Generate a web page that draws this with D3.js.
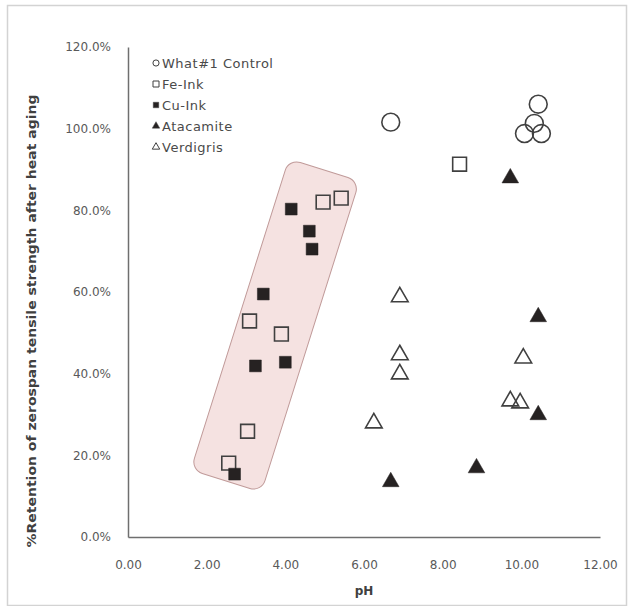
<!DOCTYPE html>
<html><head><meta charset="utf-8">
<script src="https://cdn.jsdelivr.net/npm/d3@7"></script>
<style>html,body{margin:0;padding:0;background:#fff;}</style>
</head><body>
<svg id="chart" width="635" height="606"></svg>
<script>
// ---- data (pH, fraction of zero-span tensile strength retained) ----
const seriesNames = ["What#1 Control", "Fe-Ink", "Cu-Ink", "Atacamite", "Verdigris"];
const controlPH   = [6.68, 10.43, 10.33, 10.08, 10.51];
const controlRet  = [1.016, 1.060, 1.013, 0.988, 0.988];
const feInkPH     = [4.96, 5.42, 3.09, 3.90, 3.04, 2.56, 8.43];
const feInkRet    = [0.820, 0.830, 0.529, 0.497, 0.259, 0.181, 0.913];
const cuInkPH     = [4.15, 4.61, 4.68, 3.44, 3.24, 4.00, 2.71];
const cuInkRet    = [0.803, 0.749, 0.705, 0.595, 0.419, 0.428, 0.154];
const atacPH      = [9.72, 10.43, 10.43, 8.86, 6.68];
const atacRet     = [0.879, 0.539, 0.299, 0.169, 0.135];
const verdPH      = [6.91, 6.91, 6.91, 6.25, 10.05, 9.72, 9.97];
const verdRet     = [0.588, 0.446, 0.399, 0.279, 0.438, 0.333, 0.328];
const xTicks = [0, 2, 4, 6, 8, 10, 12];
const yTicks = [0, 0.2, 0.4, 0.6, 0.8, 1.0, 1.2];
const xTitle = "pH";
const yTitle = "%Retention  of zerospan tensile strength after heat aging";
// highlighted acidic-ink region (centre in data units)
const highlightCenter = [3.74, 0.518];

const svg = d3.select("#chart");
const x = d3.scaleLinear().domain([0, 12]).range([128, 600]);
const y = d3.scaleLinear().domain([0, 1.2]).range([537, 47]);
const font = "'DejaVu Sans', sans-serif";

// outer frame
svg.append("rect").attr("x", 7.5).attr("y", 5.5).attr("width", 619).attr("height", 600)
  .attr("fill", "none").attr("stroke", "#d3d3d3").attr("stroke-width", 1.5);

// highlight box
svg.append("rect")
  .attr("x", -37).attr("y", -163).attr("width", 74).attr("height", 326)
  .attr("rx", 12).attr("ry", 12)
  .attr("transform", `translate(${x(highlightCenter[0])},${y(highlightCenter[1])}) rotate(17.5)`)
  .attr("fill", "#f5e2e1").attr("stroke", "#c09a99").attr("stroke-width", 1);

// axes
const yAxis = svg.append("g").attr("transform", `translate(${x(0)},0)`)
  .call(d3.axisLeft(y).tickValues(yTicks).tickFormat(d3.format(".1%")).tickSize(0).tickPadding(17));
const xAxis = svg.append("g").attr("transform", `translate(0,${y(0)})`)
  .call(d3.axisBottom(x).tickValues(xTicks).tickFormat(d3.format(".2f")).tickSize(0).tickPadding(23));
[yAxis, xAxis].forEach(g => {
  g.select(".domain").attr("stroke", "#6f6f6f").attr("stroke-width", 1.5);
  g.selectAll("text").attr("font-family", font).attr("font-size", 12).attr("fill", "#595959");
});

// axis titles
svg.append("text").attr("x", x(6)).attr("y", 595).attr("text-anchor", "middle")
  .attr("font-family", font).attr("font-size", 12).attr("font-weight", "bold").attr("fill", "#404040")
  .text(xTitle);
svg.append("text").attr("transform", "translate(36,321) rotate(-90)").attr("text-anchor", "middle")
  .attr("font-family", font).attr("font-size", 11.5).attr("font-weight", "bold").attr("fill", "#404040")
  .attr("textLength", 453).attr("lengthAdjust", "spacingAndGlyphs")
  .text(yTitle);

// series
const series = [
  {name: seriesNames[0], px: controlPH, ry: controlRet, type: d3.symbolCircle,   size: 250, filled: false, lsize: 30},
  {name: seriesNames[1], px: feInkPH,   ry: feInkRet,   type: d3.symbolSquare,   size: 190, filled: false, lsize: 36},
  {name: seriesNames[2], px: cuInkPH,   ry: cuInkRet,   type: d3.symbolSquare,   size: 140, filled: true,  lsize: 30},
  {name: seriesNames[3], px: atacPH,    ry: atacRet,    type: d3.symbolTriangle, size: 120, filled: true,  lsize: 24},
  {name: seriesNames[4], px: verdPH,    ry: verdRet,    type: d3.symbolTriangle, size: 120, filled: false, lsize: 24}
];
series.forEach(s => {
  const sym = d3.symbol().type(s.type).size(s.size);
  svg.append("g").selectAll("path").data(s.px.map((p, i) => [p, s.ry[i]])).join("path")
    .attr("d", sym)
    .attr("transform", d => `translate(${x(d[0])},${y(d[1])})`)
    .attr("fill", s.filled ? "#262222" : "none")
    .attr("stroke", s.filled ? "#262222" : "#404040")
    .attr("stroke-width", s.filled ? 0.5 : 1.6);
});

// legend
const lg = svg.append("g").attr("transform", "translate(156,63)");
series.forEach((s, i) => {
  const row = lg.append("g").attr("transform", `translate(0,${i * 21})`);
  row.append("path").attr("d", d3.symbol().type(s.type).size(s.lsize))
    .attr("fill", s.filled ? "#262222" : "none")
    .attr("stroke", "#404040").attr("stroke-width", s.filled ? 0.5 : 1);
  row.append("text").attr("x", 6).attr("y", 0).attr("dy", "0.35em")
    .attr("font-family", font).attr("font-size", 13).attr("letter-spacing", 0.5).attr("fill", "#4a4a4a")
    .text(s.name);
});
</script>
</body></html>
